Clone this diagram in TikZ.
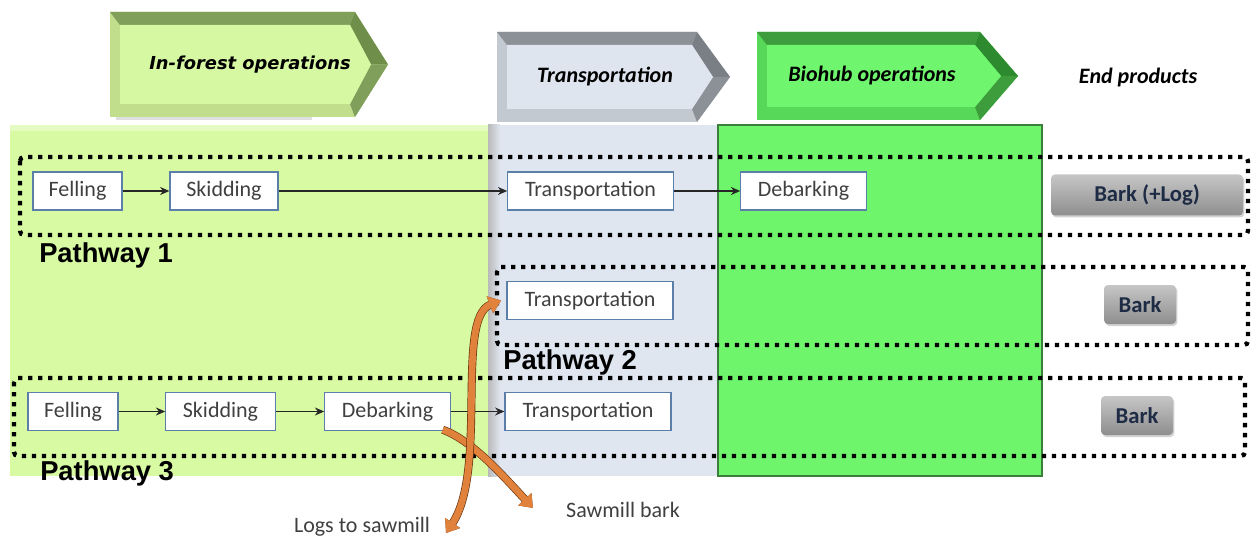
\documentclass[tikz,border=0pt]{standalone}
\usepackage{fontspec}
\setmainfont{Carlito}
\newfontfamily\arialfont{Liberation Sans}
\newfontfamily\verdfont{DejaVu Sans}
\usetikzlibrary{arrows.meta,shadows}
\definecolor{forestfill}{HTML}{D8FAA2}
\definecolor{transfill}{HTML}{DFE6F0}
\definecolor{biofill}{HTML}{6EF56B}
\definecolor{bioline}{HTML}{3C7F3C}
\definecolor{boxline}{HTML}{5B7FA8}
\definecolor{boxtext}{HTML}{404040}
\definecolor{orangearr}{HTML}{E0823C}
\definecolor{orangedark}{HTML}{6A3510}
\definecolor{btntext}{HTML}{1E2B45}
\definecolor{btntop}{HTML}{C6C6C6}
\definecolor{btnbot}{HTML}{8E8E8E}
% header arrow colours
\definecolor{fA}{HTML}{D7F8A2}\definecolor{fT}{HTML}{7F9F5A}\definecolor{fR}{HTML}{6E8E4A}\definecolor{fB}{HTML}{C0DE8C}
\definecolor{tA}{HTML}{DEE5EF}\definecolor{tT}{HTML}{8C9197}\definecolor{tR}{HTML}{7A7F86}\definecolor{tB}{HTML}{C3C9D0}
\definecolor{bA}{HTML}{6FF56E}\definecolor{bT}{HTML}{3D9C3C}\definecolor{bR}{HTML}{2E8A2E}\definecolor{bB}{HTML}{58D858}
% #1 x1, #2 y1, #3 xb, #4 xtip, #5 y2, #6 fill, #7 top, #8 right, #9 bottom
\newcommand\hdrarrow[9]{%
  \fill[#9] (#1,#2) -- (#3,#2) -- (#4,{(#2+#5)/2}) -- (#3,#5) -- (#1,#5) -- cycle;
  \fill[#7] (#1,#2) -- (#3,#2) -- ({#3-5},{#2+13}) -- ({#1+10},{#2+13}) -- cycle;
  \fill[#8] (#3,#2) -- (#4,{(#2+#5)/2}) -- ({#4-17},{(#2+#5)/2}) -- ({#3-5},{#2+13}) -- cycle;
  \fill[#7] (#4,{(#2+#5)/2}) -- (#3,#5) -- ({#3-5},{#5-13}) -- ({#4-17},{(#2+#5)/2}) -- cycle;
  \fill[#6] ({#1+10},{#2+13}) -- ({#3-5},{#2+13}) -- ({#4-17},{(#2+#5)/2}) -- ({#3-5},{#5-13}) -- ({#1+10},{#5-13}) -- cycle;
}
\begin{document}
\begin{tikzpicture}[x=0.75pt,y=-0.75pt,
  pbox/.style={draw=boxline, line width=0.9pt, fill=white, text=boxtext, font=\fontsize{16.5}{18}\selectfont, minimum height=28.5pt, inner sep=0pt},
  btn/.style={rounded corners=3pt, top color=btntop, bottom color=btnbot, draw=none, text=btntext, font=\fontsize{17}{19}\selectfont\bfseries, inner sep=0pt, drop shadow={opacity=0.35, shadow xshift=1pt, shadow yshift=-1.5pt}},
  plabel/.style={font=\arialfont\bfseries\fontsize{20.5}{23}\selectfont, inner sep=0pt},
  hdr/.style={font=\fontsize{16.5}{19}\selectfont\bfseries\itshape, inner sep=0pt},
  lbl/.style={font=\fontsize{16.5}{19}\selectfont, text=boxtext, inner sep=0pt},
  flow/.style={-{Stealth[length=7pt,width=6pt]}, line width=1.3pt, black!85},
  dotbox/.style={line width=3.2pt, dash pattern=on 3.2pt off 4.3pt, rounded corners=3pt},
  orangearrow/.style={orangearr, line width=5pt, preaction={draw=orangedark, line width=6pt}}
]
\useasboundingbox (0,0) rectangle (1251,538);
\fill[white] (0,0) rectangle (1251,538);

% header arrows
\fill[gray!25] (116,113) rectangle (312,120);
\hdrarrow{110}{12}{355}{388}{117}{fA}{fT}{fR}{fB}
\hdrarrow{497}{32}{697}{730}{122}{tA}{tT}{tR}{tB}
\hdrarrow{757}{32}{980}{1018}{120}{bA}{bT}{bR}{bB}
\node[font=\verdfont\bfseries\itshape\fontsize{13.4}{15}\selectfont, inner sep=0pt] (hforest) at (250,65) {In-forest operations};
\node[hdr] (htrans) at (605,77) {Transportation};
\node[hdr] (hbio) at (872,76) {Biohub operations};
\node[hdr] (hend) at (1138,78) {End products};

% columns
\fill[forestfill] (10,125) rectangle (488,476);
\fill[white, opacity=0.35] (10,125) rectangle (488,131);
\fill[transfill] (488,125) rectangle (718,476);
\shade[left color=gray!55, right color=transfill] (488,125) rectangle (500,476);
\fill[biofill] (718,125) rectangle (1042,476);
\draw[bioline, line width=1.5pt] (718,125) rectangle (1042,476);

% dotted pathway boxes
\draw[dotbox] (20,157) rectangle (1248,235);
\draw[dotbox] (497,267) rectangle (1248,345);
\draw[dotbox] (14,378) rectangle (1245,456);

% process boxes
\node[pbox, minimum width=66.75pt] (f1) at (77.5,191) {Felling};
\node[pbox, minimum width=81pt] (s1) at (224,191) {Skidding};
\node[pbox, minimum width=124pt] (t1) at (590.5,191) {Transportation};
\node[pbox, minimum width=94pt] (d1) at (803.5,191) {Debarking};
\node[pbox, minimum width=124.5pt] (t2) at (590,300.5) {Transportation};
\node[pbox, minimum width=67.5pt] (f3) at (73,411.5) {Felling};
\node[pbox, minimum width=82pt] (s3) at (220.5,411.5) {Skidding};
\node[pbox, minimum width=94pt] (d3) at (387.5,411.5) {Debarking};
\node[pbox, minimum width=124.5pt] (t3) at (588,411.5) {Transportation};

% end products
\node[btn, minimum width=144pt, minimum height=30.75pt] (e1) at (1147,195) {Bark (+Log)};
\node[btn, minimum width=54pt, minimum height=29.25pt] (e2) at (1140,304.5) {Bark};
\node[btn, minimum width=54pt, minimum height=29.25pt] (e3) at (1137,415.5) {Bark};

% flows
\draw[flow] (f1) -- (s1);
\draw[flow] (s1) -- (t1);
\draw[flow] (t1) -- (d1);
\draw[flow] (f3) -- (s3);
\draw[flow] (s3) -- (d3);
\draw[flow] (d3) -- (t3);

% pathway labels
\node[plabel, anchor=base west] (p1) at (39,262) {Pathway 1};
\node[plabel, anchor=base west] (p2) at (503,369) {Pathway 2};
\node[plabel, anchor=base west] (p3) at (40,480) {Pathway 3};

% bottom labels
\node[lbl] (sawbark) at (623,510) {Sawmill bark};
\node[lbl] (logs) at (362,527) {Logs to sawmill};
\coordinate (sawend) at (533,508);
\coordinate (logsend) at (446,533);

% orange arrows
\draw[orangearrow, -{Triangle[width=13pt,length=9pt]}] ([shift={(-6pt,1pt)}]d3.south east) .. controls (472,440) and (505,478) .. (sawend);
\draw[orangearrow, {Triangle[width=13pt,length=9pt]}-{Triangle[width=13pt,length=9pt]}] (logsend) .. controls (488,470) and (455,318) .. ([xshift=-4pt]t2.west);
\end{tikzpicture}
\end{document}
